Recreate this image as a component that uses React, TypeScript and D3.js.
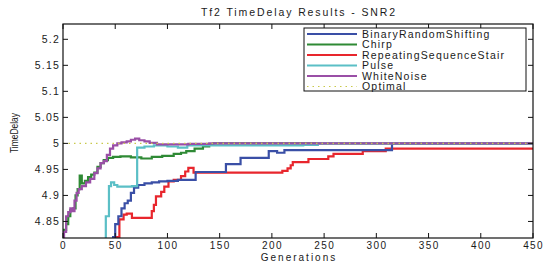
import * as d3 from 'd3';

const title = 'Tf2 TimeDelay Results - SNR2';
const xTicks = [0, 50, 100, 150, 200, 250, 300, 350, 400, 450];
const yTicks = [4.85, 4.9, 4.95, 5, 5.05, 5.1, 5.15, 5.2];

// [generation, value] change points, drawn as steps
const binaryRandomShifting: [number, number][] = [
  [45, 4.78], [48, 4.82], [50, 4.845], [53, 4.86], [56, 4.875], [59, 4.885], [62, 4.89],
  [65, 4.905], [68, 4.915], [72, 4.92], [78, 4.923], [85, 4.925], [92, 4.927], [100, 4.928],
  [110, 4.93], [127, 4.945], [156, 4.96], [170, 4.972], [197, 4.985], [205, 4.982],
  [212, 4.987], [315, 5.0], [450, 5.0],
];
const chirp: [number, number][] = [
  [0, 4.834], [3, 4.845], [5, 4.86], [7, 4.872], [10, 4.875], [12, 4.9], [14, 4.912],
  [16, 4.938], [18, 4.923], [21, 4.928], [24, 4.935], [27, 4.94], [30, 4.944], [33, 4.955],
  [36, 4.962], [39, 4.968], [43, 4.972], [48, 4.974], [55, 4.975], [65, 4.973],
  [75, 4.971], [85, 4.974], [95, 4.976], [106, 4.98], [113, 4.982], [118, 4.985],
  [126, 4.99], [134, 4.994], [140, 4.998], [144, 5.0], [450, 5.0],
];
const repeatingSequenceStair: [number, number][] = [
  [48, 4.78], [51, 4.82], [54, 4.854], [58, 4.863], [61, 4.865], [66, 4.857], [85, 4.87],
  [87, 4.882], [89, 4.898], [94, 4.907], [97, 4.917], [101, 4.927], [106, 4.93], [113, 4.937],
  [117, 4.946], [120, 4.953], [125, 4.944], [210, 4.947], [215, 4.952], [218, 4.958],
  [220, 4.964], [235, 4.97], [254, 4.975], [259, 4.98], [287, 4.985], [309, 4.99], [450, 4.99],
];
const pulse: [number, number][] = [
  [40, 4.78], [41, 4.86], [43, 4.86], [44, 4.918], [46, 4.925], [49, 4.92], [52, 4.917],
  [60, 4.917], [66, 4.918], [71, 4.992], [78, 4.994], [87, 4.996], [100, 4.994], [110, 4.992],
  [119, 4.996], [230, 4.997], [244, 5.0], [450, 5.0],
];
const whiteNoise: [number, number][] = [
  [0, 4.8], [1, 4.83], [3, 4.86], [5, 4.868], [7, 4.875], [9, 4.87], [11, 4.89], [13, 4.905],
  [15, 4.912], [18, 4.918], [22, 4.925], [26, 4.932], [30, 4.943], [33, 4.952], [36, 4.962],
  [39, 4.966], [42, 4.978], [45, 4.99], [48, 4.996], [52, 5.0], [56, 5.002], [61, 5.004],
  [65, 5.007], [69, 5.009], [73, 5.006], [78, 5.004], [83, 5.001], [90, 4.998],
  [100, 4.998], [120, 4.999], [140, 5.0], [450, 5.0],
];
const optimal: [number, number][] = [[0, 5.0], [450, 5.0]];

const seriesNames = ['BinaryRandomShifting', 'Chirp', 'RepeatingSequenceStair', 'Pulse', 'WhiteNoise', 'Optimal'];
const seriesData = [binaryRandomShifting, chirp, repeatingSequenceStair, pulse, whiteNoise, optimal];
const seriesColors = ['#3a4fa6', '#2f8a35', '#e8262d', '#5bbfc6', '#9a4fa6', '#c9c94a'];
const drawOrder = [2, 0, 1, 3, 4, 5];

export default function App() {
  const width = 544;
  const height = 262;
  const left = 63;
  const right = 533;
  const top = 24;
  const bottom = 238;

  const x = d3.scaleLinear().domain([0, 450]).range([left, right]);
  const y = d3.scaleLinear().domain([4.8182, 5.2294]).range([bottom, top]);

  const line = d3.line<[number, number]>()
    .x(d => x(d[0]))
    .y(d => y(d[1]))
    .curve(d3.curveStepAfter);

  const font = 'Liberation Sans, Arial, Helvetica, sans-serif';
  const tickLen = 5;
  const ink = '#1a1a1a';

  return (
    <svg width={width} height={height} style={{ position: 'absolute', left: 0, top: 0 }} fontFamily={font}>
      <rect width={width} height={height} fill="#fff" />
      <defs>
        <clipPath id="plot">
          <rect x={left} y={top} width={right - left} height={bottom - top} />
        </clipPath>
      </defs>

      <text x={(left + right) / 2 + 1} y={16} textAnchor="middle" fontSize={10.5} letterSpacing={1.9} fill={ink}>{title}</text>

      <g clipPath="url(#plot)">
        {drawOrder.map(i => (
          <path
            key={seriesNames[i]}
            d={line(seriesData[i]) || ''}
            fill="none"
            stroke={seriesColors[i]}
            strokeWidth={i === 5 ? 1.2 : 2.2}
            strokeDasharray={i === 5 ? '1.5 4' : undefined}
          />
        ))}
      </g>

      <rect x={left} y={top} width={right - left} height={bottom - top} fill="none" stroke="#111" strokeWidth={1.2} />

      {xTicks.map(t => (
        <g key={'x' + t}>
          <line x1={x(t)} x2={x(t)} y1={bottom} y2={bottom - tickLen} stroke="#111" />
          <line x1={x(t)} x2={x(t)} y1={top} y2={top + tickLen} stroke="#111" />
          <text x={x(t) + 0.6} y={bottom + 10.5} textAnchor="middle" fontSize={10} letterSpacing={1.4} fill={ink}>{t}</text>
        </g>
      ))}
      {yTicks.map(t => (
        <g key={'y' + t}>
          <line x1={left} x2={left + tickLen} y1={y(t)} y2={y(t)} stroke="#111" />
          <line x1={right} x2={right - tickLen} y1={y(t)} y2={y(t)} stroke="#111" />
          <text x={left - 3} y={y(t) + 3.5} textAnchor="end" fontSize={10.5} letterSpacing={1.2} fill={ink}>{t}</text>
        </g>
      ))}

      <text x={(left + right) / 2 + 1} y={260.5} textAnchor="middle" fontSize={10} letterSpacing={2} fill={ink}>Generations</text>
      <text transform={`translate(18,133) rotate(-90)`} textAnchor="middle" fontSize={10} fill={ink}
        textLength={40} lengthAdjust="spacingAndGlyphs">TimeDelay</text>

      <g>
        <rect x={304} y={28} width={222} height={63} fill="#fff" stroke="#111" strokeWidth={1} />
        {seriesNames.map((name, i) => {
          const ly = 34 + i * 10.5;
          return (
            <g key={name}>
              <line x1={307} x2={357} y1={ly} y2={ly} stroke={seriesColors[i]}
                strokeWidth={i === 5 ? 1.2 : 2} strokeDasharray={i === 5 ? '1.5 4' : undefined} />
              <text x={362} y={ly + 3.8} fontSize={10.5} letterSpacing={1.2} fill={ink}>{name}</text>
            </g>
          );
        })}
      </g>
    </svg>
  );
}
